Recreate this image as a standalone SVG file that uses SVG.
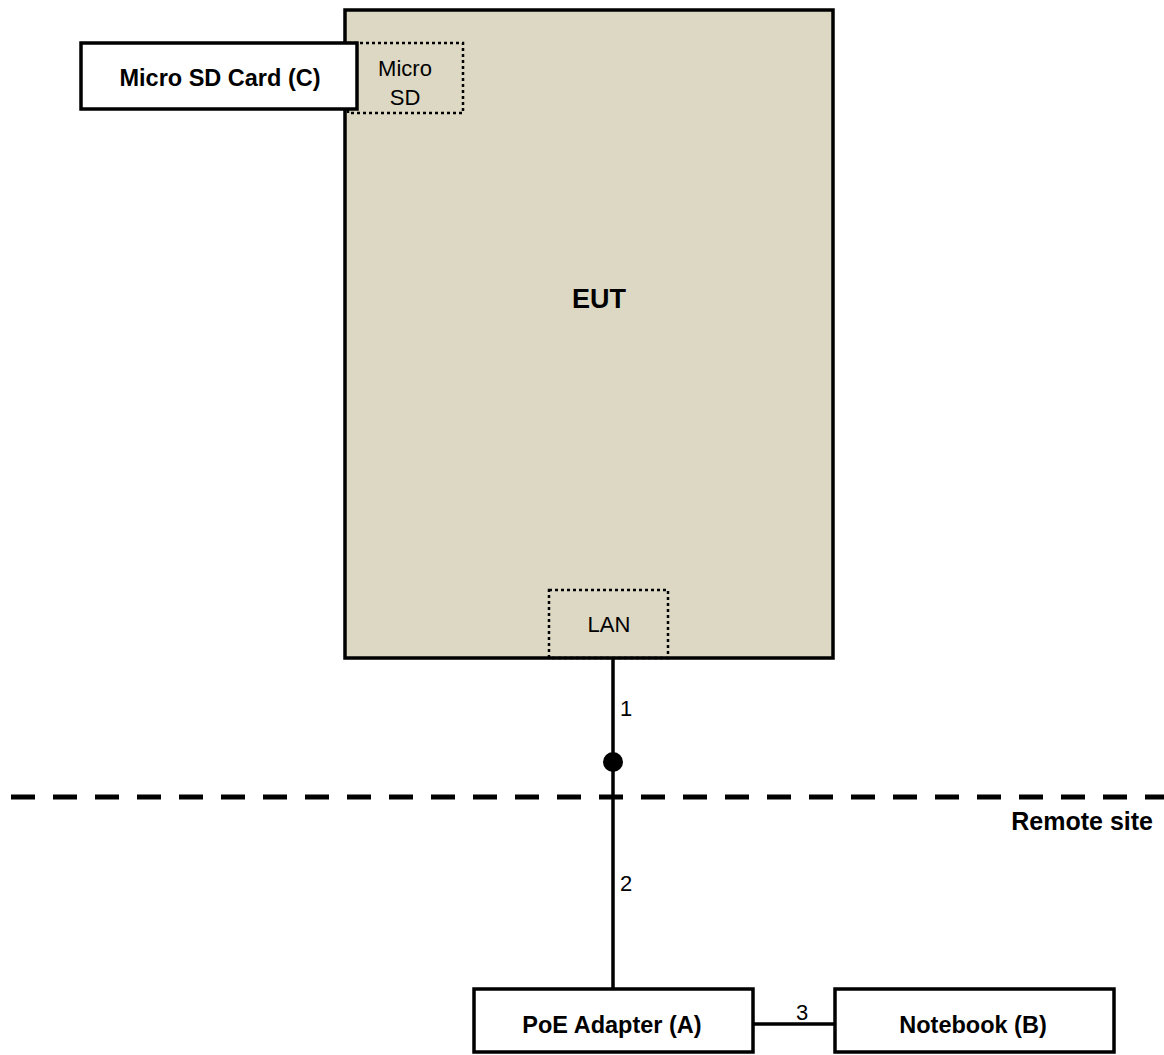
<svg xmlns="http://www.w3.org/2000/svg" width="1164" height="1055" viewBox="0 0 1164 1055">
<style>
text{font-family:"Liberation Sans",Arial,sans-serif;fill:#000}
.b{font-weight:bold;font-size:23.5px}
.e{font-weight:bold;font-size:27px}
.n{font-size:22px}
.box{fill:#fff;stroke:#000;stroke-width:3.5}
.port{fill:none;stroke:#000;stroke-width:2.5;stroke-dasharray:3 3}
.ln{stroke:#000;stroke-width:3.5;fill:none}
</style>
<rect width="1164" height="1055" fill="#fff"/>
<g id="eut">
<rect x="345" y="10" width="488" height="648" fill="#ddd8c3" stroke="#000" stroke-width="3.5"/>
<text x="599" y="308" class="e" text-anchor="middle">EUT</text>
</g>
<g id="microsd-port">
<rect x="348" y="43" width="115" height="70" class="port"/>
<text x="405" y="76" class="n" text-anchor="middle">Micro</text>
<text x="405" y="105" class="n" text-anchor="middle">SD</text>
</g>
<g id="lan-port">
<rect x="549" y="590" width="119" height="68" class="port"/>
<text x="609" y="632" class="n" text-anchor="middle">LAN</text>
</g>
<g id="sdcard">
<rect x="81" y="43" width="276" height="66" class="box"/>
<text x="220" y="86" class="b" text-anchor="middle">Micro SD Card (C)</text>
</g>
<g id="poe">
<rect x="474" y="989" width="279" height="63" class="box"/>
<text x="612" y="1033" class="b" text-anchor="middle">PoE Adapter (A)</text>
</g>
<g id="notebook">
<rect x="835" y="989" width="279" height="63" class="box"/>
<text x="973" y="1033" class="b" text-anchor="middle">Notebook (B)</text>
</g>
<g id="boundary">
<line x1="11" y1="797" x2="1164" y2="797" stroke="#000" stroke-width="5" stroke-dasharray="24 18"/>
<text x="1153" y="830" class="b" text-anchor="end" style="font-size:25px">Remote site</text>
</g>
<g id="connectors">
<line x1="613" y1="658" x2="613" y2="989" class="ln"/>
<circle cx="613" cy="762" r="10" fill="#000"/>
<line x1="753" y1="1024" x2="835" y2="1024" class="ln"/>
<text x="620" y="716" class="n">1</text>
<text x="620" y="891" class="n">2</text>
<text x="802" y="1020" class="n" text-anchor="middle">3</text>
</g>
</svg>
